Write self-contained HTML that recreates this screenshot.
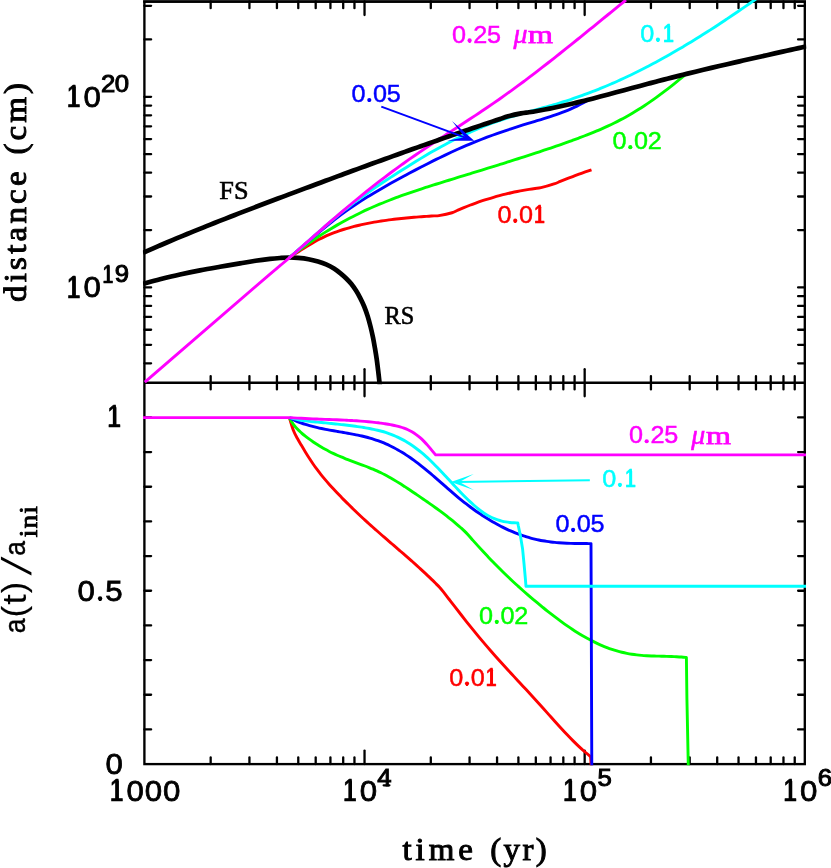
<!DOCTYPE html>
<html><head><meta charset="utf-8"><title>figure</title>
<style>html,body{margin:0;padding:0;background:#fff;overflow:hidden;}svg{display:block;will-change:transform;}text{font-family:"Liberation Sans",sans-serif;}.sf{font-family:"Liberation Serif",serif;}</style></head><body>
<svg width="831" height="868" viewBox="0 0 831 868">
<rect x="0" y="0" width="831" height="868" fill="#ffffff"/>
<defs>
<clipPath id="ct"><rect x="142.90" y="0" width="663.40" height="384.25"/></clipPath>
<clipPath id="cb"><rect x="142.90" y="381.55" width="663.40" height="383.75"/></clipPath>
</defs>
<g>
<rect x="144.40" y="1.50" width="660.40" height="762.60" fill="none" stroke="#000" stroke-width="2.35"/>
<line x1="144.40" y1="382.75" x2="804.80" y2="382.75" stroke="#000" stroke-width="2.35" stroke-linecap="butt"/>
<rect x="143.20" y="0" width="662.80" height="1.2" fill="#222"/>
<rect x="143.20" y="1.0" width="662.80" height="1.85" fill="#000"/>
<line x1="210.67" y1="1.50" x2="210.67" y2="8.20" stroke="#000" stroke-width="2.30" stroke-linecap="round"/>
<line x1="210.67" y1="376.05" x2="210.67" y2="389.45" stroke="#000" stroke-width="2.30" stroke-linecap="round"/>
<line x1="210.67" y1="764.10" x2="210.67" y2="757.40" stroke="#000" stroke-width="2.30" stroke-linecap="round"/>
<line x1="249.43" y1="1.50" x2="249.43" y2="8.20" stroke="#000" stroke-width="2.30" stroke-linecap="round"/>
<line x1="249.43" y1="376.05" x2="249.43" y2="389.45" stroke="#000" stroke-width="2.30" stroke-linecap="round"/>
<line x1="249.43" y1="764.10" x2="249.43" y2="757.40" stroke="#000" stroke-width="2.30" stroke-linecap="round"/>
<line x1="276.93" y1="1.50" x2="276.93" y2="8.20" stroke="#000" stroke-width="2.30" stroke-linecap="round"/>
<line x1="276.93" y1="376.05" x2="276.93" y2="389.45" stroke="#000" stroke-width="2.30" stroke-linecap="round"/>
<line x1="276.93" y1="764.10" x2="276.93" y2="757.40" stroke="#000" stroke-width="2.30" stroke-linecap="round"/>
<line x1="298.27" y1="1.50" x2="298.27" y2="8.20" stroke="#000" stroke-width="2.30" stroke-linecap="round"/>
<line x1="298.27" y1="376.05" x2="298.27" y2="389.45" stroke="#000" stroke-width="2.30" stroke-linecap="round"/>
<line x1="298.27" y1="764.10" x2="298.27" y2="757.40" stroke="#000" stroke-width="2.30" stroke-linecap="round"/>
<line x1="315.70" y1="1.50" x2="315.70" y2="8.20" stroke="#000" stroke-width="2.30" stroke-linecap="round"/>
<line x1="315.70" y1="376.05" x2="315.70" y2="389.45" stroke="#000" stroke-width="2.30" stroke-linecap="round"/>
<line x1="315.70" y1="764.10" x2="315.70" y2="757.40" stroke="#000" stroke-width="2.30" stroke-linecap="round"/>
<line x1="330.43" y1="1.50" x2="330.43" y2="8.20" stroke="#000" stroke-width="2.30" stroke-linecap="round"/>
<line x1="330.43" y1="376.05" x2="330.43" y2="389.45" stroke="#000" stroke-width="2.30" stroke-linecap="round"/>
<line x1="330.43" y1="764.10" x2="330.43" y2="757.40" stroke="#000" stroke-width="2.30" stroke-linecap="round"/>
<line x1="343.20" y1="1.50" x2="343.20" y2="8.20" stroke="#000" stroke-width="2.30" stroke-linecap="round"/>
<line x1="343.20" y1="376.05" x2="343.20" y2="389.45" stroke="#000" stroke-width="2.30" stroke-linecap="round"/>
<line x1="343.20" y1="764.10" x2="343.20" y2="757.40" stroke="#000" stroke-width="2.30" stroke-linecap="round"/>
<line x1="354.46" y1="1.50" x2="354.46" y2="8.20" stroke="#000" stroke-width="2.30" stroke-linecap="round"/>
<line x1="354.46" y1="376.05" x2="354.46" y2="389.45" stroke="#000" stroke-width="2.30" stroke-linecap="round"/>
<line x1="354.46" y1="764.10" x2="354.46" y2="757.40" stroke="#000" stroke-width="2.30" stroke-linecap="round"/>
<line x1="364.53" y1="1.50" x2="364.53" y2="15.00" stroke="#000" stroke-width="2.30" stroke-linecap="round"/>
<line x1="364.53" y1="369.25" x2="364.53" y2="396.25" stroke="#000" stroke-width="2.30" stroke-linecap="round"/>
<line x1="364.53" y1="764.10" x2="364.53" y2="750.60" stroke="#000" stroke-width="2.30" stroke-linecap="round"/>
<line x1="430.80" y1="1.50" x2="430.80" y2="8.20" stroke="#000" stroke-width="2.30" stroke-linecap="round"/>
<line x1="430.80" y1="376.05" x2="430.80" y2="389.45" stroke="#000" stroke-width="2.30" stroke-linecap="round"/>
<line x1="430.80" y1="764.10" x2="430.80" y2="757.40" stroke="#000" stroke-width="2.30" stroke-linecap="round"/>
<line x1="469.56" y1="1.50" x2="469.56" y2="8.20" stroke="#000" stroke-width="2.30" stroke-linecap="round"/>
<line x1="469.56" y1="376.05" x2="469.56" y2="389.45" stroke="#000" stroke-width="2.30" stroke-linecap="round"/>
<line x1="469.56" y1="764.10" x2="469.56" y2="757.40" stroke="#000" stroke-width="2.30" stroke-linecap="round"/>
<line x1="497.07" y1="1.50" x2="497.07" y2="8.20" stroke="#000" stroke-width="2.30" stroke-linecap="round"/>
<line x1="497.07" y1="376.05" x2="497.07" y2="389.45" stroke="#000" stroke-width="2.30" stroke-linecap="round"/>
<line x1="497.07" y1="764.10" x2="497.07" y2="757.40" stroke="#000" stroke-width="2.30" stroke-linecap="round"/>
<line x1="518.40" y1="1.50" x2="518.40" y2="8.20" stroke="#000" stroke-width="2.30" stroke-linecap="round"/>
<line x1="518.40" y1="376.05" x2="518.40" y2="389.45" stroke="#000" stroke-width="2.30" stroke-linecap="round"/>
<line x1="518.40" y1="764.10" x2="518.40" y2="757.40" stroke="#000" stroke-width="2.30" stroke-linecap="round"/>
<line x1="535.83" y1="1.50" x2="535.83" y2="8.20" stroke="#000" stroke-width="2.30" stroke-linecap="round"/>
<line x1="535.83" y1="376.05" x2="535.83" y2="389.45" stroke="#000" stroke-width="2.30" stroke-linecap="round"/>
<line x1="535.83" y1="764.10" x2="535.83" y2="757.40" stroke="#000" stroke-width="2.30" stroke-linecap="round"/>
<line x1="550.57" y1="1.50" x2="550.57" y2="8.20" stroke="#000" stroke-width="2.30" stroke-linecap="round"/>
<line x1="550.57" y1="376.05" x2="550.57" y2="389.45" stroke="#000" stroke-width="2.30" stroke-linecap="round"/>
<line x1="550.57" y1="764.10" x2="550.57" y2="757.40" stroke="#000" stroke-width="2.30" stroke-linecap="round"/>
<line x1="563.33" y1="1.50" x2="563.33" y2="8.20" stroke="#000" stroke-width="2.30" stroke-linecap="round"/>
<line x1="563.33" y1="376.05" x2="563.33" y2="389.45" stroke="#000" stroke-width="2.30" stroke-linecap="round"/>
<line x1="563.33" y1="764.10" x2="563.33" y2="757.40" stroke="#000" stroke-width="2.30" stroke-linecap="round"/>
<line x1="574.59" y1="1.50" x2="574.59" y2="8.20" stroke="#000" stroke-width="2.30" stroke-linecap="round"/>
<line x1="574.59" y1="376.05" x2="574.59" y2="389.45" stroke="#000" stroke-width="2.30" stroke-linecap="round"/>
<line x1="574.59" y1="764.10" x2="574.59" y2="757.40" stroke="#000" stroke-width="2.30" stroke-linecap="round"/>
<line x1="584.67" y1="1.50" x2="584.67" y2="15.00" stroke="#000" stroke-width="2.30" stroke-linecap="round"/>
<line x1="584.67" y1="369.25" x2="584.67" y2="396.25" stroke="#000" stroke-width="2.30" stroke-linecap="round"/>
<line x1="584.67" y1="764.10" x2="584.67" y2="750.60" stroke="#000" stroke-width="2.30" stroke-linecap="round"/>
<line x1="650.93" y1="1.50" x2="650.93" y2="8.20" stroke="#000" stroke-width="2.30" stroke-linecap="round"/>
<line x1="650.93" y1="376.05" x2="650.93" y2="389.45" stroke="#000" stroke-width="2.30" stroke-linecap="round"/>
<line x1="650.93" y1="764.10" x2="650.93" y2="757.40" stroke="#000" stroke-width="2.30" stroke-linecap="round"/>
<line x1="689.70" y1="1.50" x2="689.70" y2="8.20" stroke="#000" stroke-width="2.30" stroke-linecap="round"/>
<line x1="689.70" y1="376.05" x2="689.70" y2="389.45" stroke="#000" stroke-width="2.30" stroke-linecap="round"/>
<line x1="689.70" y1="764.10" x2="689.70" y2="757.40" stroke="#000" stroke-width="2.30" stroke-linecap="round"/>
<line x1="717.20" y1="1.50" x2="717.20" y2="8.20" stroke="#000" stroke-width="2.30" stroke-linecap="round"/>
<line x1="717.20" y1="376.05" x2="717.20" y2="389.45" stroke="#000" stroke-width="2.30" stroke-linecap="round"/>
<line x1="717.20" y1="764.10" x2="717.20" y2="757.40" stroke="#000" stroke-width="2.30" stroke-linecap="round"/>
<line x1="738.53" y1="1.50" x2="738.53" y2="8.20" stroke="#000" stroke-width="2.30" stroke-linecap="round"/>
<line x1="738.53" y1="376.05" x2="738.53" y2="389.45" stroke="#000" stroke-width="2.30" stroke-linecap="round"/>
<line x1="738.53" y1="764.10" x2="738.53" y2="757.40" stroke="#000" stroke-width="2.30" stroke-linecap="round"/>
<line x1="755.96" y1="1.50" x2="755.96" y2="8.20" stroke="#000" stroke-width="2.30" stroke-linecap="round"/>
<line x1="755.96" y1="376.05" x2="755.96" y2="389.45" stroke="#000" stroke-width="2.30" stroke-linecap="round"/>
<line x1="755.96" y1="764.10" x2="755.96" y2="757.40" stroke="#000" stroke-width="2.30" stroke-linecap="round"/>
<line x1="770.70" y1="1.50" x2="770.70" y2="8.20" stroke="#000" stroke-width="2.30" stroke-linecap="round"/>
<line x1="770.70" y1="376.05" x2="770.70" y2="389.45" stroke="#000" stroke-width="2.30" stroke-linecap="round"/>
<line x1="770.70" y1="764.10" x2="770.70" y2="757.40" stroke="#000" stroke-width="2.30" stroke-linecap="round"/>
<line x1="783.47" y1="1.50" x2="783.47" y2="8.20" stroke="#000" stroke-width="2.30" stroke-linecap="round"/>
<line x1="783.47" y1="376.05" x2="783.47" y2="389.45" stroke="#000" stroke-width="2.30" stroke-linecap="round"/>
<line x1="783.47" y1="764.10" x2="783.47" y2="757.40" stroke="#000" stroke-width="2.30" stroke-linecap="round"/>
<line x1="794.73" y1="1.50" x2="794.73" y2="8.20" stroke="#000" stroke-width="2.30" stroke-linecap="round"/>
<line x1="794.73" y1="376.05" x2="794.73" y2="389.45" stroke="#000" stroke-width="2.30" stroke-linecap="round"/>
<line x1="794.73" y1="764.10" x2="794.73" y2="757.40" stroke="#000" stroke-width="2.30" stroke-linecap="round"/>
<line x1="144.40" y1="363.29" x2="151.10" y2="363.29" stroke="#000" stroke-width="2.30" stroke-linecap="round"/>
<line x1="804.80" y1="363.29" x2="798.10" y2="363.29" stroke="#000" stroke-width="2.30" stroke-linecap="round"/>
<line x1="144.40" y1="344.82" x2="151.10" y2="344.82" stroke="#000" stroke-width="2.30" stroke-linecap="round"/>
<line x1="804.80" y1="344.82" x2="798.10" y2="344.82" stroke="#000" stroke-width="2.30" stroke-linecap="round"/>
<line x1="144.40" y1="329.73" x2="151.10" y2="329.73" stroke="#000" stroke-width="2.30" stroke-linecap="round"/>
<line x1="804.80" y1="329.73" x2="798.10" y2="329.73" stroke="#000" stroke-width="2.30" stroke-linecap="round"/>
<line x1="144.40" y1="316.97" x2="151.10" y2="316.97" stroke="#000" stroke-width="2.30" stroke-linecap="round"/>
<line x1="804.80" y1="316.97" x2="798.10" y2="316.97" stroke="#000" stroke-width="2.30" stroke-linecap="round"/>
<line x1="144.40" y1="305.91" x2="151.10" y2="305.91" stroke="#000" stroke-width="2.30" stroke-linecap="round"/>
<line x1="804.80" y1="305.91" x2="798.10" y2="305.91" stroke="#000" stroke-width="2.30" stroke-linecap="round"/>
<line x1="144.40" y1="296.16" x2="151.10" y2="296.16" stroke="#000" stroke-width="2.30" stroke-linecap="round"/>
<line x1="804.80" y1="296.16" x2="798.10" y2="296.16" stroke="#000" stroke-width="2.30" stroke-linecap="round"/>
<line x1="144.40" y1="287.44" x2="151.10" y2="287.44" stroke="#000" stroke-width="2.30" stroke-linecap="round"/>
<line x1="804.80" y1="287.44" x2="798.10" y2="287.44" stroke="#000" stroke-width="2.30" stroke-linecap="round"/>
<line x1="144.40" y1="230.05" x2="151.10" y2="230.05" stroke="#000" stroke-width="2.30" stroke-linecap="round"/>
<line x1="804.80" y1="230.05" x2="798.10" y2="230.05" stroke="#000" stroke-width="2.30" stroke-linecap="round"/>
<line x1="144.40" y1="196.49" x2="151.10" y2="196.49" stroke="#000" stroke-width="2.30" stroke-linecap="round"/>
<line x1="804.80" y1="196.49" x2="798.10" y2="196.49" stroke="#000" stroke-width="2.30" stroke-linecap="round"/>
<line x1="144.40" y1="172.67" x2="151.10" y2="172.67" stroke="#000" stroke-width="2.30" stroke-linecap="round"/>
<line x1="804.80" y1="172.67" x2="798.10" y2="172.67" stroke="#000" stroke-width="2.30" stroke-linecap="round"/>
<line x1="144.40" y1="154.20" x2="151.10" y2="154.20" stroke="#000" stroke-width="2.30" stroke-linecap="round"/>
<line x1="804.80" y1="154.20" x2="798.10" y2="154.20" stroke="#000" stroke-width="2.30" stroke-linecap="round"/>
<line x1="144.40" y1="139.10" x2="151.10" y2="139.10" stroke="#000" stroke-width="2.30" stroke-linecap="round"/>
<line x1="804.80" y1="139.10" x2="798.10" y2="139.10" stroke="#000" stroke-width="2.30" stroke-linecap="round"/>
<line x1="144.40" y1="126.34" x2="151.10" y2="126.34" stroke="#000" stroke-width="2.30" stroke-linecap="round"/>
<line x1="804.80" y1="126.34" x2="798.10" y2="126.34" stroke="#000" stroke-width="2.30" stroke-linecap="round"/>
<line x1="144.40" y1="115.29" x2="151.10" y2="115.29" stroke="#000" stroke-width="2.30" stroke-linecap="round"/>
<line x1="804.80" y1="115.29" x2="798.10" y2="115.29" stroke="#000" stroke-width="2.30" stroke-linecap="round"/>
<line x1="144.40" y1="105.54" x2="151.10" y2="105.54" stroke="#000" stroke-width="2.30" stroke-linecap="round"/>
<line x1="804.80" y1="105.54" x2="798.10" y2="105.54" stroke="#000" stroke-width="2.30" stroke-linecap="round"/>
<line x1="144.40" y1="96.81" x2="151.10" y2="96.81" stroke="#000" stroke-width="2.30" stroke-linecap="round"/>
<line x1="804.80" y1="96.81" x2="798.10" y2="96.81" stroke="#000" stroke-width="2.30" stroke-linecap="round"/>
<line x1="144.40" y1="39.43" x2="151.10" y2="39.43" stroke="#000" stroke-width="2.30" stroke-linecap="round"/>
<line x1="804.80" y1="39.43" x2="798.10" y2="39.43" stroke="#000" stroke-width="2.30" stroke-linecap="round"/>
<line x1="144.40" y1="5.86" x2="151.10" y2="5.86" stroke="#000" stroke-width="2.30" stroke-linecap="round"/>
<line x1="804.80" y1="5.86" x2="798.10" y2="5.86" stroke="#000" stroke-width="2.30" stroke-linecap="round"/>
<line x1="144.40" y1="729.43" x2="151.10" y2="729.43" stroke="#000" stroke-width="2.30" stroke-linecap="round"/>
<line x1="804.80" y1="729.43" x2="798.10" y2="729.43" stroke="#000" stroke-width="2.30" stroke-linecap="round"/>
<line x1="144.40" y1="694.76" x2="151.10" y2="694.76" stroke="#000" stroke-width="2.30" stroke-linecap="round"/>
<line x1="804.80" y1="694.76" x2="798.10" y2="694.76" stroke="#000" stroke-width="2.30" stroke-linecap="round"/>
<line x1="144.40" y1="660.10" x2="151.10" y2="660.10" stroke="#000" stroke-width="2.30" stroke-linecap="round"/>
<line x1="804.80" y1="660.10" x2="798.10" y2="660.10" stroke="#000" stroke-width="2.30" stroke-linecap="round"/>
<line x1="144.40" y1="625.43" x2="151.10" y2="625.43" stroke="#000" stroke-width="2.30" stroke-linecap="round"/>
<line x1="804.80" y1="625.43" x2="798.10" y2="625.43" stroke="#000" stroke-width="2.30" stroke-linecap="round"/>
<line x1="144.40" y1="590.76" x2="151.10" y2="590.76" stroke="#000" stroke-width="2.30" stroke-linecap="round"/>
<line x1="804.80" y1="590.76" x2="798.10" y2="590.76" stroke="#000" stroke-width="2.30" stroke-linecap="round"/>
<line x1="144.40" y1="556.09" x2="151.10" y2="556.09" stroke="#000" stroke-width="2.30" stroke-linecap="round"/>
<line x1="804.80" y1="556.09" x2="798.10" y2="556.09" stroke="#000" stroke-width="2.30" stroke-linecap="round"/>
<line x1="144.40" y1="521.42" x2="151.10" y2="521.42" stroke="#000" stroke-width="2.30" stroke-linecap="round"/>
<line x1="804.80" y1="521.42" x2="798.10" y2="521.42" stroke="#000" stroke-width="2.30" stroke-linecap="round"/>
<line x1="144.40" y1="486.75" x2="151.10" y2="486.75" stroke="#000" stroke-width="2.30" stroke-linecap="round"/>
<line x1="804.80" y1="486.75" x2="798.10" y2="486.75" stroke="#000" stroke-width="2.30" stroke-linecap="round"/>
<line x1="144.40" y1="452.09" x2="151.10" y2="452.09" stroke="#000" stroke-width="2.30" stroke-linecap="round"/>
<line x1="804.80" y1="452.09" x2="798.10" y2="452.09" stroke="#000" stroke-width="2.30" stroke-linecap="round"/>
<line x1="144.40" y1="417.42" x2="151.10" y2="417.42" stroke="#000" stroke-width="2.30" stroke-linecap="round"/>
<line x1="804.80" y1="417.42" x2="798.10" y2="417.42" stroke="#000" stroke-width="2.30" stroke-linecap="round"/>
</g>
<g clip-path="url(#ct)">
<path d="M143.00,283.80 C145.83,283.05 153.83,280.85 160.00,279.30 C166.17,277.75 173.33,275.98 180.00,274.50 C186.67,273.02 193.33,271.68 200.00,270.40 C206.67,269.12 213.33,267.97 220.00,266.80 C226.67,265.63 234.08,264.40 240.00,263.40 C245.92,262.40 250.50,261.55 255.50,260.80 C260.50,260.05 265.92,259.37 270.00,258.90 C274.08,258.43 276.78,258.23 280.00,258.00 C283.22,257.77 286.30,257.52 289.30,257.50 C292.30,257.48 294.80,257.62 298.00,257.90 C301.20,258.18 305.17,258.60 308.50,259.20 C311.83,259.80 315.07,260.65 318.00,261.50 C320.93,262.35 323.43,263.13 326.10,264.30 C328.77,265.47 331.60,267.00 334.00,268.50 C336.40,270.00 338.50,271.68 340.50,273.30 C342.50,274.92 344.18,276.42 346.00,278.20 C347.82,279.98 349.73,281.93 351.40,284.00 C353.07,286.07 354.50,288.22 356.00,290.60 C357.50,292.98 359.03,295.65 360.40,298.30 C361.77,300.95 363.00,303.55 364.20,306.50 C365.40,309.45 366.55,312.67 367.60,316.00 C368.65,319.33 369.60,322.92 370.50,326.50 C371.40,330.08 372.25,333.83 373.00,337.50 C373.75,341.17 374.38,344.90 375.00,348.50 C375.62,352.10 376.17,355.35 376.70,359.10 C377.23,362.85 377.73,367.08 378.20,371.00 C378.67,374.92 379.18,379.77 379.50,382.60 C379.82,385.43 380.00,387.10 380.10,388.00" fill="none" stroke="#000" stroke-width="4.70" stroke-linejoin="round" stroke-linecap="butt" stroke-linecap="round"/>
<path d="M289.30,257.44 C290.13,256.92 292.63,255.36 294.29,254.31 C295.95,253.26 297.62,252.20 299.28,251.15 C300.94,250.09 302.61,249.04 304.27,248.00 C305.93,246.97 307.60,245.94 309.26,244.95 C310.92,243.95 312.59,242.97 314.25,242.03 C315.91,241.09 317.58,240.18 319.24,239.32 C320.90,238.46 322.57,237.64 324.23,236.86 C325.89,236.08 327.56,235.34 329.22,234.64 C330.88,233.94 332.55,233.28 334.21,232.65 C335.87,232.02 337.54,231.43 339.20,230.86 C340.86,230.30 342.53,229.76 344.19,229.25 C345.85,228.73 347.52,228.25 349.18,227.78 C350.84,227.32 352.51,226.87 354.17,226.44 C355.83,226.02 357.50,225.61 359.16,225.22 C360.82,224.83 362.49,224.46 364.15,224.11 C365.81,223.75 367.48,223.41 369.14,223.09 C370.80,222.77 372.47,222.46 374.13,222.17 C375.79,221.88 377.46,221.60 379.12,221.33 C380.78,221.07 382.45,220.82 384.11,220.58 C385.77,220.33 387.44,220.11 389.10,219.89 C390.76,219.67 392.43,219.47 394.09,219.27 C395.75,219.07 397.42,218.88 399.08,218.70 C400.74,218.52 402.41,218.35 404.07,218.19 C405.73,218.02 407.40,217.87 409.06,217.72 C410.72,217.57 412.39,217.43 414.05,217.29 C415.71,217.15 417.38,217.02 419.04,216.90 C420.70,216.77 422.37,216.65 424.03,216.54 C425.69,216.42 427.36,216.32 429.02,216.21 C430.68,216.10 432.35,216.00 434.01,215.91 C435.67,215.81 436.00,216.15 439.00,215.63 C442.00,215.10 448.84,213.66 452.00,212.74 C455.16,211.82 455.96,210.96 457.93,210.10 C459.91,209.25 461.89,208.42 463.87,207.61 C465.84,206.80 467.82,206.02 469.80,205.26 C471.78,204.50 473.76,203.77 475.73,203.05 C477.71,202.34 479.69,201.65 481.67,200.99 C483.64,200.33 485.62,199.68 487.60,199.07 C489.58,198.45 491.56,197.86 493.53,197.29 C495.51,196.71 497.49,196.16 499.47,195.63 C501.44,195.11 503.42,194.60 505.40,194.11 C507.38,193.63 509.36,193.16 511.33,192.72 C513.31,192.28 515.29,191.86 517.27,191.46 C519.24,191.06 521.22,190.68 523.20,190.33 C525.18,189.97 527.16,189.64 529.13,189.33 C531.11,189.01 533.09,188.72 535.07,188.45 C537.04,188.18 537.84,188.47 541.00,187.71 C544.16,186.95 550.79,184.97 554.00,183.91 C557.21,182.86 558.17,182.22 560.25,181.39 C562.33,180.56 564.42,179.74 566.50,178.93 C568.58,178.13 570.67,177.33 572.75,176.54 C574.83,175.76 576.92,174.98 579.00,174.22 C581.08,173.46 583.17,172.71 585.25,171.96 C587.33,171.22 590.46,170.14 591.50,169.78" fill="none" stroke="#ff0000" stroke-width="2.90" stroke-linejoin="round" stroke-linecap="butt" stroke-linecap="round"/>
<path d="M289.30,257.36 C290.30,256.62 293.31,254.37 295.32,252.90 C297.32,251.42 299.33,249.96 301.34,248.52 C303.34,247.07 305.35,245.64 307.35,244.23 C309.36,242.82 311.37,241.43 313.37,240.07 C315.38,238.70 317.38,237.35 319.39,236.03 C321.40,234.71 323.40,233.41 325.41,232.14 C327.42,230.87 329.42,229.63 331.43,228.42 C333.43,227.21 335.44,226.02 337.45,224.87 C339.45,223.71 341.46,222.58 343.46,221.48 C345.47,220.38 347.48,219.31 349.48,218.26 C351.49,217.21 353.49,216.18 355.50,215.18 C357.51,214.18 359.51,213.20 361.52,212.24 C363.52,211.29 365.53,210.35 367.54,209.44 C369.54,208.53 371.55,207.63 373.55,206.76 C375.56,205.89 377.57,205.03 379.57,204.20 C381.58,203.36 383.58,202.54 385.59,201.74 C387.60,200.94 389.60,200.16 391.61,199.39 C393.62,198.62 395.62,197.86 397.63,197.12 C399.63,196.38 401.64,195.65 403.65,194.93 C405.65,194.22 407.66,193.52 409.66,192.82 C411.67,192.13 413.68,191.45 415.68,190.77 C417.69,190.10 419.69,189.43 421.70,188.78 C423.71,188.12 425.71,187.47 427.72,186.83 C429.72,186.18 431.73,185.55 433.74,184.92 C435.74,184.28 437.75,183.66 439.75,183.03 C441.76,182.41 443.77,181.79 445.77,181.17 C447.78,180.55 449.78,179.93 451.79,179.31 C453.80,178.70 455.80,178.08 457.81,177.46 C459.82,176.85 461.82,176.23 463.83,175.61 C465.83,175.00 467.84,174.38 469.85,173.77 C471.85,173.15 473.86,172.53 475.86,171.92 C477.87,171.30 479.88,170.68 481.88,170.06 C483.89,169.44 485.89,168.82 487.90,168.20 C489.91,167.58 491.91,166.96 493.92,166.33 C495.92,165.71 497.93,165.08 499.94,164.46 C501.94,163.83 503.95,163.20 505.95,162.57 C507.96,161.94 509.97,161.30 511.97,160.67 C513.98,160.03 515.98,159.39 517.99,158.75 C520.00,158.11 522.00,157.47 524.01,156.82 C526.02,156.17 528.02,155.52 530.03,154.87 C532.03,154.22 534.04,153.56 536.05,152.90 C538.05,152.24 540.06,151.57 542.06,150.90 C544.07,150.24 546.08,149.56 548.08,148.89 C550.09,148.21 552.09,147.53 554.10,146.84 C556.11,146.16 558.11,145.47 560.12,144.77 C562.12,144.07 564.13,143.38 566.14,142.67 C568.14,141.96 570.15,141.24 572.15,140.52 C574.16,139.79 576.17,139.06 578.17,138.31 C580.18,137.56 582.18,136.80 584.19,136.02 C586.20,135.25 588.20,134.46 590.21,133.65 C592.22,132.84 594.22,132.02 596.23,131.17 C598.23,130.32 600.24,129.46 602.25,128.57 C604.25,127.68 606.26,126.77 608.26,125.83 C610.27,124.90 612.28,123.94 614.28,122.95 C616.29,121.96 618.29,120.94 620.30,119.90 C622.31,118.85 624.31,117.77 626.32,116.66 C628.32,115.55 630.33,114.41 632.34,113.24 C634.34,112.06 636.35,110.85 638.35,109.60 C640.36,108.35 642.37,107.06 644.37,105.74 C646.38,104.41 648.38,103.05 650.39,101.66 C652.40,100.26 654.40,98.84 656.41,97.38 C658.42,95.93 660.42,94.44 662.43,92.93 C664.43,91.41 666.44,89.87 668.45,88.31 C670.45,86.75 672.46,85.16 674.46,83.55 C676.47,81.94 678.48,80.31 680.48,78.67 C682.49,77.02 685.50,74.51 686.50,73.68" fill="none" stroke="#00ff00" stroke-width="2.90" stroke-linejoin="round" stroke-linecap="butt" />
<path d="M289.30,257.73 C290.30,256.87 293.30,254.30 295.29,252.58 C297.29,250.87 299.29,249.14 301.29,247.42 C303.29,245.69 305.28,243.97 307.28,242.26 C309.28,240.54 311.28,238.83 313.28,237.13 C315.27,235.43 317.27,233.74 319.27,232.08 C321.27,230.41 323.27,228.75 325.26,227.12 C327.26,225.49 329.26,223.88 331.26,222.30 C333.26,220.72 335.25,219.16 337.25,217.64 C339.25,216.11 341.25,214.62 343.25,213.17 C345.24,211.71 347.24,210.29 349.24,208.90 C351.24,207.50 353.24,206.14 355.23,204.81 C357.23,203.47 359.23,202.16 361.23,200.88 C363.23,199.59 365.22,198.34 367.22,197.10 C369.22,195.86 371.22,194.65 373.22,193.45 C375.21,192.25 377.21,191.08 379.21,189.91 C381.21,188.75 383.21,187.60 385.20,186.47 C387.20,185.34 389.20,184.22 391.20,183.10 C393.20,181.99 395.19,180.89 397.19,179.80 C399.19,178.71 401.19,177.62 403.19,176.54 C405.18,175.46 407.18,174.38 409.18,173.32 C411.18,172.25 413.18,171.19 415.17,170.14 C417.17,169.09 419.17,168.04 421.17,167.01 C423.17,165.97 425.16,164.95 427.16,163.93 C429.16,162.91 431.16,161.91 433.16,160.91 C435.15,159.92 437.15,158.93 439.15,157.96 C441.15,156.98 443.15,156.02 445.14,155.07 C447.14,154.12 449.14,153.18 451.14,152.26 C453.14,151.34 455.13,150.43 457.13,149.53 C459.13,148.63 461.13,147.75 463.13,146.88 C465.12,146.02 467.12,145.16 469.12,144.33 C471.12,143.49 473.12,142.67 475.11,141.86 C477.11,141.06 479.11,140.27 481.11,139.49 C483.11,138.72 485.10,137.96 487.10,137.21 C489.10,136.46 491.10,135.73 493.10,135.00 C495.09,134.28 497.09,133.57 499.09,132.87 C501.09,132.17 503.09,131.49 505.08,130.81 C507.08,130.13 509.08,129.47 511.08,128.81 C513.08,128.15 515.07,127.51 517.07,126.87 C519.07,126.23 521.07,125.60 523.07,124.98 C525.06,124.36 527.06,123.75 529.06,123.14 C531.06,122.53 533.06,121.93 535.05,121.33 C537.05,120.73 539.05,120.14 541.05,119.53 C543.05,118.92 545.04,118.31 547.04,117.67 C549.04,117.04 551.04,116.40 553.04,115.73 C555.03,115.06 557.03,114.37 559.03,113.65 C561.03,112.92 563.03,112.17 565.02,111.38 C567.02,110.58 569.02,109.76 571.02,108.88 C573.02,108.00 575.01,107.09 577.01,106.12 C579.01,105.15 581.01,104.13 583.01,103.06 C585.00,101.99 588.00,100.24 589.00,99.68" fill="none" stroke="#0000ff" stroke-width="2.90" stroke-linejoin="round" stroke-linecap="butt" />
<path d="M289.30,257.75 C290.30,256.88 293.29,254.31 295.28,252.57 C297.28,250.83 299.27,249.07 301.27,247.31 C303.26,245.55 305.26,243.78 307.25,242.01 C309.24,240.25 311.24,238.47 313.23,236.71 C315.23,234.94 317.22,233.18 319.22,231.43 C321.21,229.68 323.21,227.93 325.20,226.20 C327.19,224.48 329.19,222.76 331.18,221.07 C333.18,219.38 335.17,217.70 337.17,216.06 C339.16,214.41 341.16,212.79 343.15,211.20 C345.14,209.61 347.14,208.04 349.13,206.50 C351.13,204.96 353.12,203.45 355.12,201.96 C357.11,200.47 359.11,199.00 361.10,197.55 C363.09,196.10 365.09,194.68 367.08,193.27 C369.08,191.86 371.07,190.47 373.07,189.10 C375.06,187.73 377.06,186.37 379.05,185.03 C381.04,183.68 383.04,182.36 385.03,181.04 C387.03,179.73 389.02,178.42 391.02,177.13 C393.01,175.84 395.01,174.55 397.00,173.28 C398.99,172.00 400.99,170.73 402.98,169.47 C404.98,168.21 406.97,166.96 408.97,165.72 C410.96,164.47 412.96,163.24 414.95,162.01 C416.94,160.79 418.94,159.58 420.93,158.38 C422.93,157.18 424.92,155.99 426.92,154.82 C428.91,153.64 430.91,152.48 432.90,151.34 C434.89,150.20 436.89,149.07 438.88,147.96 C440.88,146.85 442.87,145.76 444.87,144.69 C446.86,143.62 448.86,142.56 450.85,141.53 C452.84,140.50 454.84,139.49 456.83,138.50 C458.83,137.51 460.82,136.54 462.82,135.59 C464.81,134.64 466.81,133.71 468.80,132.81 C470.79,131.90 472.79,131.01 474.78,130.15 C476.78,129.29 478.77,128.45 480.77,127.62 C482.76,126.80 484.76,126.01 486.75,125.23 C488.74,124.45 490.74,123.70 492.73,122.96 C494.73,122.23 496.72,121.52 498.72,120.83 C500.71,120.14 502.71,119.47 504.70,118.83 C506.69,118.18 508.69,117.55 510.68,116.94 C512.68,116.32 514.67,115.73 516.67,115.14 C518.66,114.55 520.66,113.98 522.65,113.42 C524.64,112.85 526.64,112.29 528.63,111.74 C530.63,111.19 532.62,110.64 534.62,110.09 C536.61,109.54 538.61,109.00 540.60,108.44 C542.59,107.89 544.59,107.34 546.58,106.78 C548.58,106.22 550.57,105.65 552.57,105.07 C554.56,104.49 556.56,103.91 558.55,103.30 C560.54,102.70 562.54,102.08 564.53,101.45 C566.53,100.82 568.52,100.17 570.52,99.51 C572.51,98.84 574.51,98.17 576.50,97.47 C578.49,96.78 580.49,96.07 582.48,95.35 C584.48,94.63 586.47,93.89 588.47,93.14 C590.46,92.39 592.46,91.62 594.45,90.84 C596.44,90.06 598.44,89.26 600.43,88.45 C602.43,87.64 604.42,86.81 606.42,85.97 C608.41,85.13 610.41,84.27 612.40,83.40 C614.39,82.54 616.39,81.65 618.38,80.75 C620.38,79.85 622.37,78.94 624.37,78.01 C626.36,77.09 628.36,76.14 630.35,75.19 C632.34,74.23 634.34,73.26 636.33,72.28 C638.33,71.29 640.32,70.29 642.32,69.28 C644.31,68.27 646.31,67.24 648.30,66.20 C650.29,65.16 652.29,64.10 654.28,63.04 C656.28,61.97 658.27,60.89 660.27,59.79 C662.26,58.70 664.26,57.59 666.25,56.47 C668.24,55.36 670.24,54.22 672.23,53.08 C674.23,51.94 676.22,50.78 678.22,49.61 C680.21,48.45 682.21,47.27 684.20,46.08 C686.19,44.89 688.19,43.68 690.18,42.47 C692.18,41.26 694.17,40.04 696.17,38.80 C698.16,37.57 700.16,36.32 702.15,35.07 C704.14,33.81 706.14,32.55 708.13,31.28 C710.13,30.00 712.12,28.72 714.12,27.42 C716.11,26.13 718.11,24.83 720.10,23.52 C722.09,22.21 724.09,20.89 726.08,19.56 C728.08,18.23 730.07,16.89 732.07,15.54 C734.06,14.20 736.06,12.85 738.05,11.48 C740.04,10.12 742.04,8.75 744.03,7.38 C746.03,6.00 748.02,4.62 750.02,3.23 C752.01,1.84 755.00,-0.27 756.00,-0.97" fill="none" stroke="#00ffff" stroke-width="2.90" stroke-linejoin="round" stroke-linecap="butt" />
<path d="M144.80,382.10 C165.67,364.10 248.13,292.94 270.00,274.11 C291.87,255.27 274.02,270.78 276.03,269.09 C278.05,267.41 280.06,265.70 282.07,263.98 C284.08,262.27 286.09,260.53 288.10,258.79 C290.11,257.05 292.12,255.30 294.14,253.54 C296.15,251.78 298.16,250.01 300.17,248.24 C302.18,246.47 304.19,244.70 306.20,242.92 C308.21,241.14 310.23,239.36 312.24,237.58 C314.25,235.81 316.26,234.03 318.27,232.26 C320.28,230.48 322.29,228.71 324.31,226.95 C326.32,225.19 328.33,223.43 330.34,221.69 C332.35,219.94 334.36,218.21 336.37,216.48 C338.38,214.76 340.40,213.04 342.41,211.34 C344.42,209.64 346.43,207.94 348.44,206.26 C350.45,204.58 352.46,202.91 354.47,201.25 C356.49,199.59 358.50,197.94 360.51,196.31 C362.52,194.67 364.53,193.05 366.54,191.44 C368.55,189.83 370.56,188.23 372.58,186.65 C374.59,185.06 376.60,183.49 378.61,181.94 C380.62,180.38 382.63,178.84 384.64,177.31 C386.66,175.78 388.67,174.26 390.68,172.77 C392.69,171.27 394.70,169.78 396.71,168.31 C398.72,166.84 400.73,165.39 402.75,163.95 C404.76,162.51 406.77,161.09 408.78,159.68 C410.79,158.27 412.80,156.87 414.81,155.49 C416.82,154.10 418.84,152.73 420.85,151.36 C422.86,150.00 424.87,148.64 426.88,147.29 C428.89,145.95 430.90,144.61 432.92,143.27 C434.93,141.94 436.94,140.61 438.95,139.29 C440.96,137.97 442.97,136.65 444.98,135.34 C446.99,134.02 449.01,132.71 451.02,131.40 C453.03,130.08 455.04,128.77 457.05,127.46 C459.06,126.15 461.07,124.84 463.08,123.52 C465.10,122.21 467.11,120.89 469.12,119.57 C471.13,118.25 473.14,116.92 475.15,115.59 C477.16,114.26 479.18,112.92 481.19,111.57 C483.20,110.23 485.21,108.87 487.22,107.51 C489.23,106.15 491.24,104.78 493.25,103.39 C495.27,102.01 497.28,100.61 499.29,99.20 C501.30,97.80 503.31,96.38 505.32,94.94 C507.33,93.51 509.34,92.06 511.36,90.60 C513.37,89.15 515.38,87.68 517.39,86.20 C519.40,84.72 521.41,83.22 523.42,81.72 C525.44,80.22 527.45,78.71 529.46,77.19 C531.47,75.67 533.48,74.14 535.49,72.60 C537.50,71.06 539.51,69.51 541.53,67.95 C543.54,66.40 545.55,64.83 547.56,63.26 C549.57,61.69 551.58,60.11 553.59,58.53 C555.60,56.94 557.62,55.35 559.63,53.76 C561.64,52.16 563.65,50.56 565.66,48.95 C567.67,47.34 569.68,45.73 571.69,44.11 C573.71,42.50 575.72,40.88 577.73,39.25 C579.74,37.63 581.75,36.00 583.76,34.38 C585.77,32.75 587.79,31.11 589.80,29.48 C591.81,27.85 593.82,26.21 595.83,24.58 C597.84,22.94 599.85,21.30 601.86,19.66 C603.88,18.03 605.89,16.39 607.90,14.75 C609.91,13.11 611.92,11.48 613.93,9.84 C615.94,8.20 617.95,6.57 619.97,4.94 C621.98,3.31 624.99,0.86 626.00,0.05" fill="none" stroke="#ff00ff" stroke-width="2.90" stroke-linejoin="round" stroke-linecap="butt" />
<path d="M143.00,252.78 C144.32,252.20 148.29,250.46 150.93,249.31 C153.58,248.16 156.22,247.02 158.87,245.89 C161.51,244.75 164.16,243.63 166.80,242.51 C169.45,241.39 172.09,240.27 174.74,239.17 C177.38,238.06 180.03,236.96 182.67,235.87 C185.32,234.77 187.96,233.69 190.61,232.60 C193.25,231.52 195.90,230.45 198.54,229.38 C201.19,228.30 203.83,227.24 206.48,226.18 C209.12,225.12 211.77,224.06 214.41,223.01 C217.06,221.96 219.70,220.92 222.35,219.88 C224.99,218.84 227.64,217.80 230.28,216.77 C232.93,215.74 235.57,214.71 238.22,213.68 C240.86,212.66 243.51,211.64 246.15,210.62 C248.80,209.60 251.44,208.59 254.09,207.58 C256.73,206.57 259.38,205.56 262.02,204.56 C264.67,203.55 267.31,202.55 269.96,201.55 C272.60,200.55 275.25,199.55 277.89,198.56 C280.54,197.56 283.18,196.57 285.83,195.58 C288.47,194.58 291.12,193.59 293.76,192.61 C296.41,191.62 299.05,190.63 301.70,189.64 C304.34,188.66 306.99,187.67 309.63,186.69 C312.28,185.70 314.92,184.72 317.57,183.74 C320.21,182.76 322.86,181.77 325.50,180.80 C328.14,179.82 330.79,178.84 333.43,177.86 C336.08,176.88 338.72,175.91 341.37,174.94 C344.01,173.96 346.66,172.99 349.30,172.02 C351.95,171.05 354.59,170.08 357.24,169.11 C359.88,168.15 362.53,167.18 365.17,166.22 C367.82,165.25 370.46,164.29 373.11,163.33 C375.75,162.37 378.40,161.41 381.04,160.45 C383.69,159.50 386.33,158.54 388.98,157.59 C391.62,156.64 394.27,155.69 396.91,154.74 C399.56,153.79 402.20,152.84 404.85,151.90 C407.49,150.95 410.14,150.01 412.78,149.07 C415.43,148.13 418.07,147.19 420.72,146.26 C423.36,145.32 426.01,144.39 428.65,143.46 C431.30,142.52 433.94,141.60 436.59,140.67 C439.23,139.74 441.88,138.82 444.52,137.90 C447.17,136.98 449.81,136.06 452.46,135.14 C455.10,134.23 457.75,133.31 460.39,132.40 C463.04,131.49 465.68,130.59 468.33,129.68 C470.97,128.78 473.62,127.87 476.26,126.97 C478.91,126.08 481.55,125.18 484.20,124.29 C486.84,123.39 489.49,122.50 492.13,121.61 C494.78,120.73 497.42,119.84 500.07,118.96 C502.71,118.08 504.51,117.25 508.00,116.33 C511.49,115.40 517.51,114.08 521.00,113.41 C524.49,112.73 526.29,112.67 528.93,112.26 C531.57,111.85 534.22,111.42 536.86,110.96 C539.50,110.50 542.15,110.02 544.79,109.52 C547.44,109.02 550.08,108.50 552.72,107.96 C555.37,107.42 558.01,106.85 560.65,106.28 C563.30,105.70 565.94,105.10 568.58,104.50 C571.23,103.89 573.87,103.26 576.51,102.62 C579.16,101.99 581.80,101.34 584.44,100.68 C587.09,100.02 589.73,99.34 592.38,98.66 C595.02,97.98 597.66,97.29 600.31,96.60 C602.95,95.90 605.59,95.20 608.24,94.49 C610.88,93.78 613.52,93.07 616.17,92.35 C618.81,91.64 621.45,90.92 624.10,90.20 C626.74,89.48 629.38,88.76 632.03,88.05 C634.67,87.33 637.31,86.61 639.96,85.90 C642.60,85.19 645.25,84.48 647.89,83.78 C650.53,83.07 653.18,82.38 655.82,81.69 C658.46,80.99 661.11,80.31 663.75,79.63 C666.39,78.95 669.04,78.27 671.68,77.60 C674.32,76.94 676.97,76.27 679.61,75.61 C682.25,74.95 684.90,74.30 687.54,73.65 C690.19,73.00 692.83,72.35 695.47,71.71 C698.12,71.07 700.76,70.43 703.40,69.80 C706.05,69.17 708.69,68.54 711.33,67.91 C713.98,67.29 716.62,66.67 719.26,66.05 C721.91,65.43 724.55,64.81 727.19,64.20 C729.84,63.59 732.48,62.98 735.12,62.37 C737.77,61.76 740.41,61.15 743.06,60.55 C745.70,59.95 748.34,59.35 750.99,58.75 C753.63,58.15 756.27,57.55 758.92,56.96 C761.56,56.36 764.20,55.77 766.85,55.17 C769.49,54.58 772.13,53.99 774.78,53.40 C777.42,52.81 780.06,52.22 782.71,51.63 C785.35,51.04 788.00,50.45 790.64,49.86 C793.28,49.27 795.93,48.68 798.57,48.09 C801.21,47.50 805.18,46.62 806.50,46.32" fill="none" stroke="#000" stroke-width="4.70" stroke-linejoin="round" stroke-linecap="butt" stroke-linecap="round"/>
</g>
<g clip-path="url(#cb)">
<path d="M289.40,417.61 C290.06,419.72 292.03,426.84 293.35,430.29 C294.67,433.73 295.98,435.82 297.30,438.29 C298.62,440.76 299.93,442.87 301.25,445.11 C302.57,447.35 303.88,449.57 305.20,451.73 C306.52,453.88 307.83,456.01 309.15,458.05 C310.47,460.09 311.78,462.07 313.10,463.97 C314.42,465.88 315.73,467.70 317.05,469.47 C318.37,471.23 319.68,472.93 321.00,474.58 C322.32,476.23 323.63,477.81 324.95,479.37 C326.27,480.92 327.58,482.43 328.90,483.91 C330.22,485.39 331.53,486.82 332.85,488.25 C334.17,489.67 335.48,491.07 336.80,492.46 C338.12,493.85 339.43,495.22 340.75,496.58 C342.07,497.93 343.38,499.28 344.70,500.60 C346.02,501.93 347.33,503.25 348.65,504.55 C349.97,505.85 351.28,507.14 352.60,508.42 C353.92,509.69 355.23,510.96 356.55,512.21 C357.87,513.46 359.18,514.71 360.50,515.94 C361.82,517.17 363.13,518.39 364.45,519.60 C365.77,520.82 367.08,522.02 368.40,523.21 C369.72,524.41 371.03,525.59 372.35,526.77 C373.67,527.95 374.98,529.12 376.30,530.28 C377.62,531.45 378.93,532.61 380.25,533.76 C381.57,534.91 382.88,536.05 384.20,537.20 C385.52,538.34 386.83,539.48 388.15,540.61 C389.47,541.75 390.78,542.88 392.10,544.01 C393.42,545.14 394.73,546.27 396.05,547.41 C397.37,548.54 398.68,549.67 400.00,550.81 C401.32,551.94 402.63,553.08 403.95,554.22 C405.27,555.36 406.58,556.51 407.90,557.66 C409.22,558.81 410.53,559.97 411.85,561.14 C413.17,562.30 414.48,563.47 415.80,564.66 C417.12,565.84 418.43,567.03 419.75,568.23 C421.07,569.43 422.38,570.64 423.70,571.87 C425.02,573.09 426.33,574.33 427.65,575.58 C428.97,576.83 430.28,578.10 431.60,579.38 C432.92,580.66 434.23,581.96 435.55,583.27 C436.87,584.58 438.26,585.92 439.50,587.26 C440.74,588.61 441.43,589.39 443.00,591.34 C444.57,593.30 446.94,596.45 448.90,599.00 C450.87,601.55 452.84,604.11 454.81,606.65 C456.78,609.20 458.74,611.74 460.71,614.26 C462.68,616.78 464.65,619.29 466.62,621.78 C468.58,624.26 470.55,626.73 472.52,629.17 C474.49,631.60 476.46,634.02 478.42,636.40 C480.39,638.77 482.36,641.12 484.33,643.43 C486.30,645.74 488.26,648.02 490.23,650.27 C492.20,652.52 494.17,654.75 496.14,656.95 C498.10,659.16 500.07,661.34 502.04,663.51 C504.01,665.68 505.98,667.83 507.94,669.97 C509.91,672.12 511.88,674.24 513.85,676.37 C515.82,678.50 517.78,680.62 519.75,682.74 C521.72,684.86 523.69,686.98 525.66,689.10 C527.62,691.23 529.59,693.36 531.56,695.50 C533.53,697.64 535.50,699.79 537.46,701.96 C539.43,704.13 541.40,706.31 543.37,708.51 C545.34,710.70 547.30,712.92 549.27,715.12 C551.24,717.32 553.21,719.53 555.18,721.71 C557.14,723.90 559.11,726.08 561.08,728.21 C563.05,730.35 565.02,732.48 566.98,734.54 C568.95,736.61 570.92,738.65 572.89,740.63 C574.86,742.60 576.82,744.53 578.79,746.38 C580.76,748.23 582.73,750.02 584.70,751.73 C586.66,753.43 589.62,755.78 590.60,756.59 L591.2,766" fill="none" stroke="#ff0000" stroke-width="2.90" stroke-linejoin="round" stroke-linecap="butt" />
<path d="M289.40,417.61 C290.06,418.74 292.05,422.49 293.38,424.40 C294.71,426.32 296.03,427.72 297.36,429.12 C298.69,430.52 300.01,431.63 301.34,432.80 C302.67,433.97 303.99,435.06 305.32,436.12 C306.64,437.18 307.97,438.19 309.30,439.16 C310.62,440.14 311.95,441.07 313.28,441.98 C314.60,442.88 315.93,443.75 317.26,444.59 C318.58,445.43 319.91,446.24 321.24,447.03 C322.56,447.81 323.89,448.57 325.22,449.30 C326.54,450.03 327.87,450.74 329.20,451.42 C330.52,452.10 331.85,452.76 333.17,453.40 C334.50,454.03 335.83,454.65 337.15,455.24 C338.48,455.84 339.81,456.41 341.13,456.96 C342.46,457.52 343.79,458.05 345.11,458.58 C346.44,459.11 347.77,459.61 349.09,460.12 C350.42,460.62 351.75,461.11 353.07,461.60 C354.40,462.09 355.73,462.57 357.05,463.06 C358.38,463.55 359.71,464.03 361.03,464.52 C362.36,465.01 363.68,465.50 365.01,466.01 C366.34,466.51 367.66,467.02 368.99,467.55 C370.32,468.08 371.64,468.61 372.97,469.17 C374.30,469.73 375.62,470.30 376.95,470.90 C378.28,471.51 379.60,472.13 380.93,472.77 C382.26,473.42 383.58,474.10 384.91,474.79 C386.24,475.49 387.56,476.21 388.89,476.95 C390.22,477.69 391.54,478.45 392.87,479.23 C394.19,480.01 395.52,480.81 396.85,481.62 C398.17,482.43 399.50,483.26 400.83,484.10 C402.15,484.94 403.48,485.80 404.81,486.66 C406.13,487.52 407.46,488.40 408.79,489.28 C410.11,490.17 411.44,491.06 412.77,491.96 C414.09,492.85 415.42,493.76 416.75,494.66 C418.07,495.57 419.40,496.48 420.73,497.39 C422.05,498.30 423.38,499.21 424.70,500.13 C426.03,501.04 427.36,501.96 428.68,502.89 C430.01,503.81 431.34,504.74 432.66,505.69 C433.99,506.63 435.32,507.58 436.64,508.54 C437.97,509.50 439.30,510.47 440.62,511.45 C441.95,512.44 443.28,513.43 444.60,514.45 C445.93,515.46 447.26,516.49 448.58,517.53 C449.91,518.58 451.23,519.64 452.56,520.73 C453.89,521.82 455.21,522.92 456.54,524.05 C457.87,525.18 459.19,526.32 460.52,527.50 C461.85,528.68 463.25,529.89 464.50,531.10 C465.75,532.31 466.59,533.22 468.00,534.77 C469.41,536.31 471.31,538.52 472.96,540.37 C474.62,542.22 476.27,544.06 477.93,545.88 C479.58,547.70 481.24,549.50 482.89,551.28 C484.55,553.07 486.20,554.83 487.85,556.58 C489.51,558.32 491.16,560.05 492.82,561.75 C494.47,563.46 496.13,565.14 497.78,566.81 C499.44,568.47 501.09,570.11 502.75,571.73 C504.40,573.36 506.05,574.95 507.71,576.53 C509.36,578.11 511.02,579.67 512.67,581.21 C514.33,582.75 515.98,584.27 517.64,585.77 C519.29,587.27 520.95,588.76 522.60,590.22 C524.25,591.69 525.91,593.14 527.56,594.57 C529.22,596.00 530.87,597.42 532.53,598.82 C534.18,600.22 535.84,601.61 537.49,602.98 C539.15,604.35 540.80,605.71 542.45,607.05 C544.11,608.39 545.76,609.73 547.42,611.04 C549.07,612.35 550.73,613.64 552.38,614.92 C554.04,616.20 555.69,617.46 557.35,618.69 C559.00,619.93 560.65,621.15 562.31,622.34 C563.96,623.53 565.62,624.70 567.27,625.85 C568.93,626.99 570.58,628.11 572.24,629.21 C573.89,630.30 575.55,631.37 577.20,632.40 C578.85,633.44 580.51,634.45 582.16,635.43 C583.82,636.40 585.47,637.35 587.13,638.26 C588.78,639.17 590.44,640.05 592.09,640.90 C593.75,641.74 595.40,642.55 597.05,643.33 C598.71,644.10 600.36,644.84 602.02,645.54 C603.67,646.25 605.33,646.91 606.98,647.55 C608.64,648.18 610.29,648.77 611.95,649.33 C613.60,649.89 615.25,650.41 616.91,650.90 C618.56,651.38 620.22,651.83 621.87,652.24 C623.53,652.65 625.18,653.02 626.84,653.35 C628.49,653.68 630.15,653.97 631.80,654.23 C633.45,654.49 635.11,654.71 636.76,654.90 C638.42,655.09 640.07,655.24 641.73,655.38 C643.38,655.52 645.04,655.62 646.69,655.72 C648.35,655.81 650.00,655.88 651.65,655.95 C653.31,656.01 654.96,656.06 656.62,656.10 C658.27,656.15 659.93,656.19 661.58,656.23 C663.24,656.27 664.89,656.30 666.55,656.35 C668.20,656.39 669.85,656.44 671.51,656.50 C673.16,656.56 674.82,656.62 676.47,656.70 C678.13,656.79 679.78,656.88 681.44,657.00 C683.09,657.11 685.57,657.33 686.40,657.40 L686.9,697.9 L688.3,766" fill="none" stroke="#00ff00" stroke-width="2.90" stroke-linejoin="round" stroke-linecap="butt" />
<path d="M289.40,417.60 C290.07,417.96 292.08,419.09 293.42,419.75 C294.76,420.42 296.10,421.01 297.44,421.57 C298.78,422.13 300.12,422.64 301.46,423.12 C302.80,423.59 304.14,424.02 305.49,424.44 C306.83,424.85 308.17,425.23 309.51,425.60 C310.85,425.96 312.19,426.31 313.53,426.64 C314.87,426.98 316.21,427.30 317.55,427.60 C318.89,427.91 320.23,428.20 321.57,428.49 C322.91,428.77 324.25,429.04 325.59,429.30 C326.93,429.57 328.27,429.82 329.61,430.07 C330.95,430.32 332.29,430.56 333.63,430.80 C334.98,431.04 336.32,431.27 337.66,431.51 C339.00,431.74 340.34,431.96 341.68,432.19 C343.02,432.42 344.36,432.65 345.70,432.88 C347.04,433.12 348.38,433.35 349.72,433.59 C351.06,433.84 352.40,434.08 353.74,434.34 C355.08,434.60 356.42,434.86 357.76,435.14 C359.10,435.42 360.44,435.71 361.78,436.02 C363.12,436.33 364.46,436.65 365.81,436.99 C367.15,437.33 368.49,437.69 369.83,438.07 C371.17,438.45 372.51,438.85 373.85,439.28 C375.19,439.71 376.53,440.16 377.87,440.64 C379.21,441.12 380.55,441.63 381.89,442.17 C383.23,442.70 384.57,443.27 385.91,443.87 C387.25,444.46 388.59,445.09 389.93,445.74 C391.27,446.39 392.61,447.07 393.95,447.78 C395.30,448.49 396.64,449.22 397.98,449.99 C399.32,450.75 400.66,451.54 402.00,452.35 C403.34,453.17 404.68,454.01 406.02,454.88 C407.36,455.75 408.70,456.65 410.04,457.57 C411.38,458.49 412.72,459.43 414.06,460.40 C415.40,461.37 416.74,462.37 418.08,463.39 C419.42,464.41 420.76,465.46 422.10,466.52 C423.44,467.59 424.78,468.68 426.13,469.79 C427.47,470.89 428.81,472.02 430.15,473.16 C431.49,474.29 432.83,475.45 434.17,476.60 C435.51,477.76 436.85,478.93 438.19,480.11 C439.53,481.28 440.87,482.46 442.21,483.64 C443.55,484.81 444.89,486.00 446.23,487.17 C447.57,488.34 448.91,489.52 450.25,490.68 C451.59,491.84 452.93,493.00 454.27,494.14 C455.62,495.28 456.96,496.41 458.30,497.52 C459.64,498.63 460.98,499.73 462.32,500.80 C463.66,501.88 465.00,502.93 466.34,503.97 C467.68,505.01 469.02,506.02 470.36,507.02 C471.70,508.02 473.04,509.00 474.38,509.96 C475.72,510.92 477.06,511.86 478.40,512.77 C479.74,513.69 481.08,514.59 482.42,515.47 C483.76,516.35 485.10,517.21 486.45,518.05 C487.79,518.89 489.13,519.71 490.47,520.50 C491.81,521.30 493.15,522.08 494.49,522.84 C495.83,523.59 497.17,524.33 498.51,525.04 C499.85,525.75 501.19,526.45 502.53,527.12 C503.87,527.79 505.21,528.44 506.55,529.07 C507.89,529.70 509.23,530.31 510.57,530.89 C511.91,531.48 513.25,532.04 514.59,532.58 C515.94,533.13 517.28,533.65 518.62,534.15 C519.96,534.65 521.30,535.13 522.64,535.58 C523.98,536.04 525.32,536.47 526.66,536.89 C528.00,537.30 529.34,537.69 530.68,538.06 C532.02,538.43 533.36,538.77 534.70,539.10 C536.04,539.42 537.38,539.73 538.72,540.01 C540.06,540.29 541.40,540.55 542.74,540.78 C544.08,541.02 545.42,541.24 546.77,541.43 C548.11,541.63 549.45,541.81 550.79,541.97 C552.13,542.13 553.47,542.28 554.81,542.41 C556.15,542.54 557.49,542.65 558.83,542.75 C560.17,542.85 561.51,542.94 562.85,543.02 C564.19,543.09 565.53,543.16 566.87,543.21 C568.21,543.27 569.55,543.32 570.89,543.35 C572.23,543.39 573.57,543.42 574.91,543.45 C576.26,543.47 577.60,543.49 578.94,543.51 C580.28,543.53 581.62,543.54 582.96,543.55 C584.30,543.56 585.64,543.56 586.98,543.57 C588.32,543.58 590.33,543.60 591.00,543.60 L591.8,766" fill="none" stroke="#0000ff" stroke-width="2.90" stroke-linejoin="round" stroke-linecap="butt" />
<path d="M289.40,417.60 C290.07,417.77 292.07,418.32 293.41,418.64 C294.74,418.96 296.08,419.25 297.41,419.51 C298.75,419.77 300.09,420.01 301.42,420.23 C302.76,420.45 304.09,420.64 305.43,420.83 C306.76,421.01 308.10,421.18 309.44,421.33 C310.77,421.49 312.11,421.63 313.44,421.77 C314.78,421.91 316.11,422.04 317.45,422.16 C318.78,422.29 320.12,422.42 321.46,422.55 C322.79,422.67 324.13,422.80 325.46,422.93 C326.80,423.06 328.13,423.19 329.47,423.32 C330.81,423.45 332.14,423.59 333.48,423.73 C334.81,423.86 336.15,424.00 337.48,424.14 C338.82,424.29 340.16,424.43 341.49,424.58 C342.83,424.73 344.16,424.89 345.50,425.04 C346.83,425.20 348.17,425.36 349.51,425.53 C350.84,425.70 352.18,425.87 353.51,426.05 C354.85,426.23 356.18,426.41 357.52,426.60 C358.85,426.79 360.19,426.98 361.53,427.19 C362.86,427.39 364.20,427.60 365.53,427.82 C366.87,428.05 368.20,428.28 369.54,428.53 C370.88,428.78 372.21,429.04 373.55,429.32 C374.88,429.61 376.22,429.91 377.55,430.23 C378.89,430.55 380.23,430.89 381.56,431.26 C382.90,431.63 384.23,432.02 385.57,432.45 C386.90,432.87 388.24,433.32 389.58,433.81 C390.91,434.29 392.25,434.80 393.58,435.36 C394.92,435.91 396.25,436.49 397.59,437.12 C398.93,437.75 400.26,438.41 401.60,439.12 C402.93,439.82 404.27,440.57 405.60,441.36 C406.94,442.14 408.27,442.97 409.61,443.84 C410.95,444.71 412.28,445.62 413.62,446.56 C414.95,447.51 416.29,448.50 417.62,449.52 C418.96,450.55 420.30,451.62 421.63,452.72 C422.97,453.82 424.30,454.97 425.64,456.15 C426.97,457.33 428.31,458.55 429.65,459.80 C430.98,461.06 432.32,462.36 433.65,463.68 C434.99,465.01 436.32,466.37 437.66,467.74 C439.00,469.12 440.33,470.53 441.67,471.95 C443.00,473.36 444.34,474.80 445.67,476.24 C447.01,477.68 448.35,479.13 449.68,480.58 C451.02,482.02 452.35,483.48 453.69,484.92 C455.02,486.35 456.36,487.79 457.69,489.21 C459.03,490.62 460.37,492.03 461.70,493.41 C463.04,494.79 464.37,496.15 465.71,497.47 C467.04,498.79 468.38,500.09 469.72,501.35 C471.05,502.61 472.39,503.83 473.72,505.00 C475.06,506.18 476.39,507.31 477.73,508.39 C479.07,509.46 480.40,510.49 481.74,511.46 C483.07,512.42 484.41,513.33 485.74,514.17 C487.08,515.00 488.42,515.77 489.75,516.47 C491.09,517.18 492.42,517.80 493.76,518.37 C495.09,518.94 496.43,519.44 497.76,519.89 C499.10,520.33 500.44,520.72 501.77,521.05 C503.11,521.39 504.44,521.67 505.78,521.90 C507.11,522.14 508.45,522.32 509.79,522.47 C511.12,522.61 512.46,522.71 513.79,522.78 C515.13,522.85 517.13,522.85 517.80,522.87 L518.2,525.3 L520.2,534.6 L522.6,549.1 L524.0,563.5 L525.3,578.0 L526.0,586.3 L806,586.3" fill="none" stroke="#00ffff" stroke-width="2.90" stroke-linejoin="round" stroke-linecap="butt" />
<path d="M143.00,417.60 L289.40,417.60 C290.06,417.64 292.03,417.78 293.35,417.86 C294.67,417.94 295.99,418.02 297.30,418.10 C298.62,418.17 299.94,418.24 301.25,418.31 C302.57,418.38 303.89,418.45 305.21,418.51 C306.52,418.58 307.84,418.64 309.16,418.70 C310.47,418.76 311.79,418.82 313.11,418.87 C314.43,418.93 315.74,418.98 317.06,419.04 C318.38,419.09 319.69,419.14 321.01,419.19 C322.33,419.25 323.65,419.30 324.96,419.35 C326.28,419.40 327.60,419.45 328.91,419.50 C330.23,419.55 331.55,419.60 332.86,419.66 C334.18,419.71 335.50,419.76 336.82,419.82 C338.13,419.87 339.45,419.92 340.77,419.98 C342.08,420.04 343.40,420.10 344.72,420.16 C346.04,420.22 347.35,420.28 348.67,420.35 C349.99,420.42 351.30,420.49 352.62,420.57 C353.94,420.64 355.26,420.72 356.57,420.80 C357.89,420.89 359.21,420.98 360.52,421.08 C361.84,421.17 363.16,421.27 364.48,421.38 C365.79,421.49 367.11,421.61 368.43,421.73 C369.74,421.85 371.06,421.98 372.38,422.12 C373.70,422.27 375.01,422.41 376.33,422.57 C377.65,422.73 378.96,422.90 380.28,423.07 C381.60,423.25 382.92,423.44 384.23,423.64 C385.55,423.84 386.87,424.05 388.18,424.27 C389.50,424.49 390.82,424.72 392.14,424.98 C393.45,425.23 394.77,425.49 396.09,425.80 C397.40,426.11 398.72,426.43 400.04,426.82 C401.35,427.20 402.67,427.62 403.99,428.10 C405.31,428.59 406.62,429.12 407.94,429.73 C409.26,430.34 410.57,431.02 411.89,431.78 C413.21,432.55 414.53,433.39 415.84,434.33 C417.16,435.27 418.48,436.30 419.79,437.44 C421.11,438.57 422.43,439.79 423.75,441.12 C425.06,442.44 426.38,443.88 427.70,445.38 C429.01,446.89 430.33,448.54 431.65,450.12 C432.97,451.71 434.94,454.10 435.60,454.90 L806,454.9" fill="none" stroke="#ff00ff" stroke-width="2.90" stroke-linejoin="round" stroke-linecap="butt" />
</g>
<g><text transform="translate(73.50,106.90) scale(0.820,1)" text-anchor="middle" font-size="31.25" fill="#000" stroke="#000" stroke-width="0.60" stroke-linejoin="round" vector-effect="non-scaling-stroke">1</text><line x1="73.95" y1="87.20" x2="73.95" y2="104.11" stroke="#000" stroke-width="3.60" stroke-linecap="round"/><text transform="translate(92.10,106.70) scale(1.030,1)" text-anchor="middle" font-size="30.30" fill="#000" stroke="#000" stroke-width="0.80">0</text></g>
<g><text transform="translate(108.15,91.70) scale(1.080,1)" text-anchor="middle" font-size="23.80" fill="#000" stroke="#000" stroke-width="1.00">2</text><text transform="translate(121.95,91.70) scale(1.080,1)" text-anchor="middle" font-size="23.80" fill="#000" stroke="#000" stroke-width="1.00">0</text></g>
<g><text transform="translate(73.50,297.50) scale(0.820,1)" text-anchor="middle" font-size="31.25" fill="#000" stroke="#000" stroke-width="0.60" stroke-linejoin="round" vector-effect="non-scaling-stroke">1</text><line x1="73.95" y1="277.80" x2="73.95" y2="294.71" stroke="#000" stroke-width="3.60" stroke-linecap="round"/><text transform="translate(92.10,297.30) scale(1.030,1)" text-anchor="middle" font-size="30.30" fill="#000" stroke="#000" stroke-width="0.80">0</text></g>
<g><text transform="translate(107.87,282.50) scale(0.820,1)" text-anchor="middle" font-size="24.85" fill="#000" stroke="#000" stroke-width="0.60" stroke-linejoin="round" vector-effect="non-scaling-stroke">1</text><line x1="108.23" y1="266.84" x2="108.23" y2="280.32" stroke="#000" stroke-width="2.88" stroke-linecap="round"/><text transform="translate(121.95,282.30) scale(1.080,1)" text-anchor="middle" font-size="23.80" fill="#000" stroke="#000" stroke-width="1.00">9</text></g>
<g><text transform="translate(349.75,801.20) scale(0.820,1)" text-anchor="middle" font-size="31.25" fill="#000" stroke="#000" stroke-width="0.60" stroke-linejoin="round" vector-effect="non-scaling-stroke">1</text><line x1="350.20" y1="781.50" x2="350.20" y2="798.41" stroke="#000" stroke-width="3.60" stroke-linecap="round"/><text transform="translate(368.35,801.00) scale(1.030,1)" text-anchor="middle" font-size="30.30" fill="#000" stroke="#000" stroke-width="0.80">0</text></g>
<g><text transform="translate(384.30,786.00) scale(1.080,1)" text-anchor="middle" font-size="23.80" fill="#000" stroke="#000" stroke-width="1.00">4</text><line x1="383.69" y1="785.34" x2="389.36" y2="785.34" stroke="#000" stroke-width="2.33" stroke-linecap="round"/></g>
<g><text transform="translate(569.88,801.20) scale(0.820,1)" text-anchor="middle" font-size="31.25" fill="#000" stroke="#000" stroke-width="0.60" stroke-linejoin="round" vector-effect="non-scaling-stroke">1</text><line x1="570.33" y1="781.50" x2="570.33" y2="798.41" stroke="#000" stroke-width="3.60" stroke-linecap="round"/><text transform="translate(588.48,801.00) scale(1.030,1)" text-anchor="middle" font-size="30.30" fill="#000" stroke="#000" stroke-width="0.80">0</text></g>
<g><text transform="translate(604.73,786.00) scale(1.080,1)" text-anchor="middle" font-size="23.80" fill="#000" stroke="#000" stroke-width="1.00">5</text></g>
<g><text transform="translate(790.02,801.20) scale(0.820,1)" text-anchor="middle" font-size="31.25" fill="#000" stroke="#000" stroke-width="0.60" stroke-linejoin="round" vector-effect="non-scaling-stroke">1</text><line x1="790.47" y1="781.50" x2="790.47" y2="798.41" stroke="#000" stroke-width="3.60" stroke-linecap="round"/><text transform="translate(808.62,801.00) scale(1.030,1)" text-anchor="middle" font-size="30.30" fill="#000" stroke="#000" stroke-width="0.80">0</text></g>
<g><text transform="translate(824.87,786.00) scale(1.080,1)" text-anchor="middle" font-size="23.80" fill="#000" stroke="#000" stroke-width="1.00">6</text></g>
<g><text transform="translate(116.60,801.20) scale(0.820,1)" text-anchor="middle" font-size="31.25" fill="#000" stroke="#000" stroke-width="0.60" stroke-linejoin="round" vector-effect="non-scaling-stroke">1</text><line x1="117.05" y1="781.50" x2="117.05" y2="798.41" stroke="#000" stroke-width="3.60" stroke-linecap="round"/><text transform="translate(135.20,801.00) scale(1.030,1)" text-anchor="middle" font-size="30.30" fill="#000" stroke="#000" stroke-width="0.80">0</text><text transform="translate(153.45,801.00) scale(1.030,1)" text-anchor="middle" font-size="30.30" fill="#000" stroke="#000" stroke-width="0.80">0</text><text transform="translate(171.70,801.00) scale(1.030,1)" text-anchor="middle" font-size="30.30" fill="#000" stroke="#000" stroke-width="0.80">0</text></g>
<g><text transform="translate(114.25,773.80) scale(1.030,1)" text-anchor="middle" font-size="30.30" fill="#000" stroke="#000" stroke-width="0.80">0</text></g>
<g><text transform="translate(86.15,600.70) scale(1.030,1)" text-anchor="middle" font-size="30.30" fill="#000" stroke="#000" stroke-width="0.80">0</text><text transform="translate(100.08,600.70)" text-anchor="middle" font-size="24.24" fill="#000">.</text><circle cx="100.08" cy="598.50" r="2.20" fill="#000"/><text transform="translate(114.00,600.70) scale(1.030,1)" text-anchor="middle" font-size="30.30" fill="#000" stroke="#000" stroke-width="0.80">5</text></g>
<g><text transform="translate(114.20,427.40) scale(0.820,1)" text-anchor="middle" font-size="31.25" fill="#000" stroke="#000" stroke-width="0.60" stroke-linejoin="round" vector-effect="non-scaling-stroke">1</text><line x1="114.65" y1="407.70" x2="114.65" y2="424.61" stroke="#000" stroke-width="3.60" stroke-linecap="round"/></g>
<g><text transform="translate(458.90,42.57) scale(1.040,1)" text-anchor="middle" font-size="24.24" fill="#ff00ff" stroke="#ff00ff" stroke-width="0.45">0</text><text transform="translate(469.60,42.57)" text-anchor="middle" font-size="19.39" fill="#ff00ff">.</text><circle cx="469.60" cy="40.47" r="2.10" fill="#ff00ff"/><text transform="translate(480.30,42.57) scale(1.040,1)" text-anchor="middle" font-size="24.24" fill="#ff00ff" stroke="#ff00ff" stroke-width="0.45">2</text><text transform="translate(494.10,42.57) scale(1.040,1)" text-anchor="middle" font-size="24.24" fill="#ff00ff" stroke="#ff00ff" stroke-width="0.45">5</text></g>
<g><text transform="translate(636.00,443.38) scale(1.040,1)" text-anchor="middle" font-size="24.24" fill="#ff00ff" stroke="#ff00ff" stroke-width="0.45">0</text><text transform="translate(646.70,443.38)" text-anchor="middle" font-size="19.39" fill="#ff00ff">.</text><circle cx="646.70" cy="441.27" r="2.10" fill="#ff00ff"/><text transform="translate(657.40,443.38) scale(1.040,1)" text-anchor="middle" font-size="24.24" fill="#ff00ff" stroke="#ff00ff" stroke-width="0.45">2</text><text transform="translate(671.20,443.38) scale(1.040,1)" text-anchor="middle" font-size="24.24" fill="#ff00ff" stroke="#ff00ff" stroke-width="0.45">5</text></g>
<g><text transform="translate(647.25,41.77) scale(1.040,1)" text-anchor="middle" font-size="24.24" fill="#00ffff" stroke="#00ffff" stroke-width="0.45">0</text><text transform="translate(657.95,41.77)" text-anchor="middle" font-size="19.39" fill="#00ffff">.</text><circle cx="657.95" cy="39.67" r="2.10" fill="#00ffff"/><text transform="translate(668.37,41.98) scale(0.820,1)" text-anchor="middle" font-size="24.85" fill="#00ffff" stroke="#00ffff" stroke-width="0.60" stroke-linejoin="round" vector-effect="non-scaling-stroke">1</text><line x1="668.73" y1="26.32" x2="668.73" y2="39.80" stroke="#00ffff" stroke-width="2.88" stroke-linecap="round"/></g>
<g><text transform="translate(609.25,486.97) scale(1.040,1)" text-anchor="middle" font-size="24.24" fill="#00ffff" stroke="#00ffff" stroke-width="0.45">0</text><text transform="translate(619.95,486.97)" text-anchor="middle" font-size="19.39" fill="#00ffff">.</text><circle cx="619.95" cy="484.87" r="2.10" fill="#00ffff"/><text transform="translate(630.37,487.17) scale(0.820,1)" text-anchor="middle" font-size="24.85" fill="#00ffff" stroke="#00ffff" stroke-width="0.60" stroke-linejoin="round" vector-effect="non-scaling-stroke">1</text><line x1="630.73" y1="471.52" x2="630.73" y2="485.00" stroke="#00ffff" stroke-width="2.88" stroke-linecap="round"/></g>
<g><text transform="translate(358.60,102.08) scale(1.040,1)" text-anchor="middle" font-size="24.24" fill="#0000ff" stroke="#0000ff" stroke-width="0.45">0</text><text transform="translate(369.30,102.08)" text-anchor="middle" font-size="19.39" fill="#0000ff">.</text><circle cx="369.30" cy="99.98" r="2.10" fill="#0000ff"/><text transform="translate(380.00,102.08) scale(1.040,1)" text-anchor="middle" font-size="24.24" fill="#0000ff" stroke="#0000ff" stroke-width="0.45">0</text><text transform="translate(393.80,102.08) scale(1.040,1)" text-anchor="middle" font-size="24.24" fill="#0000ff" stroke="#0000ff" stroke-width="0.45">5</text></g>
<g><text transform="translate(562.40,531.97) scale(1.040,1)" text-anchor="middle" font-size="24.24" fill="#0000ff" stroke="#0000ff" stroke-width="0.45">0</text><text transform="translate(573.10,531.97)" text-anchor="middle" font-size="19.39" fill="#0000ff">.</text><circle cx="573.10" cy="529.87" r="2.10" fill="#0000ff"/><text transform="translate(583.80,531.97) scale(1.040,1)" text-anchor="middle" font-size="24.24" fill="#0000ff" stroke="#0000ff" stroke-width="0.45">0</text><text transform="translate(597.60,531.97) scale(1.040,1)" text-anchor="middle" font-size="24.24" fill="#0000ff" stroke="#0000ff" stroke-width="0.45">5</text></g>
<g><text transform="translate(619.60,149.28) scale(1.040,1)" text-anchor="middle" font-size="24.24" fill="#00ff00" stroke="#00ff00" stroke-width="0.45">0</text><text transform="translate(630.30,149.28)" text-anchor="middle" font-size="19.39" fill="#00ff00">.</text><circle cx="630.30" cy="147.18" r="2.10" fill="#00ff00"/><text transform="translate(641.00,149.28) scale(1.040,1)" text-anchor="middle" font-size="24.24" fill="#00ff00" stroke="#00ff00" stroke-width="0.45">0</text><text transform="translate(654.80,149.28) scale(1.040,1)" text-anchor="middle" font-size="24.24" fill="#00ff00" stroke="#00ff00" stroke-width="0.45">2</text></g>
<g><text transform="translate(486.10,623.97) scale(1.040,1)" text-anchor="middle" font-size="24.24" fill="#00ff00" stroke="#00ff00" stroke-width="0.45">0</text><text transform="translate(496.80,623.97)" text-anchor="middle" font-size="19.39" fill="#00ff00">.</text><circle cx="496.80" cy="621.87" r="2.10" fill="#00ff00"/><text transform="translate(507.50,623.97) scale(1.040,1)" text-anchor="middle" font-size="24.24" fill="#00ff00" stroke="#00ff00" stroke-width="0.45">0</text><text transform="translate(521.30,623.97) scale(1.040,1)" text-anchor="middle" font-size="24.24" fill="#00ff00" stroke="#00ff00" stroke-width="0.45">2</text></g>
<g><text transform="translate(504.55,222.78) scale(1.040,1)" text-anchor="middle" font-size="24.24" fill="#ff0000" stroke="#ff0000" stroke-width="0.45">0</text><text transform="translate(515.25,222.78)" text-anchor="middle" font-size="19.39" fill="#ff0000">.</text><circle cx="515.25" cy="220.68" r="2.10" fill="#ff0000"/><text transform="translate(525.95,222.78) scale(1.040,1)" text-anchor="middle" font-size="24.24" fill="#ff0000" stroke="#ff0000" stroke-width="0.45">0</text><text transform="translate(539.47,222.97) scale(0.820,1)" text-anchor="middle" font-size="24.85" fill="#ff0000" stroke="#ff0000" stroke-width="0.60" stroke-linejoin="round" vector-effect="non-scaling-stroke">1</text><line x1="539.83" y1="207.32" x2="539.83" y2="220.80" stroke="#ff0000" stroke-width="2.88" stroke-linecap="round"/></g>
<g><text transform="translate(456.30,685.67) scale(1.040,1)" text-anchor="middle" font-size="24.24" fill="#ff0000" stroke="#ff0000" stroke-width="0.45">0</text><text transform="translate(467.00,685.67)" text-anchor="middle" font-size="19.39" fill="#ff0000">.</text><circle cx="467.00" cy="683.57" r="2.10" fill="#ff0000"/><text transform="translate(477.70,685.67) scale(1.040,1)" text-anchor="middle" font-size="24.24" fill="#ff0000" stroke="#ff0000" stroke-width="0.45">0</text><text transform="translate(491.22,685.88) scale(0.820,1)" text-anchor="middle" font-size="24.85" fill="#ff0000" stroke="#ff0000" stroke-width="0.60" stroke-linejoin="round" vector-effect="non-scaling-stroke">1</text><line x1="491.58" y1="670.22" x2="491.58" y2="683.70" stroke="#ff0000" stroke-width="2.88" stroke-linecap="round"/></g>
<text class="sf" x="513.50" y="43.00" font-size="26.5" font-style="italic" fill="#ff00ff" stroke="#ff00ff" stroke-width="0.55" textLength="14" lengthAdjust="spacingAndGlyphs">&#956;</text>
<text class="sf" x="528.10" y="43.00" font-size="26" fill="#ff00ff" stroke="#ff00ff" stroke-width="0.75" textLength="25.0" lengthAdjust="spacingAndGlyphs">m</text>
<text class="sf" x="691.30" y="443.80" font-size="26.5" font-style="italic" fill="#ff00ff" stroke="#ff00ff" stroke-width="0.55" textLength="14" lengthAdjust="spacingAndGlyphs">&#956;</text>
<text class="sf" x="705.90" y="443.80" font-size="26" fill="#ff00ff" stroke="#ff00ff" stroke-width="0.75" textLength="25.0" lengthAdjust="spacingAndGlyphs">m</text>
<text class="sf" x="219.3" y="198.7" font-size="26" fill="#000" stroke="#000" stroke-width="0.6" textLength="29.2" lengthAdjust="spacingAndGlyphs">FS</text>
<text class="sf" x="384.4" y="323.5" font-size="25" fill="#000" stroke="#000" stroke-width="0.6" textLength="29.8" lengthAdjust="spacingAndGlyphs">RS</text>
<text class="sf" font-size="30.5" fill="#000" stroke="#000" stroke-width="0.95" lengthAdjust="spacing" transform="translate(402.4,860.3) scale(1.08,1)" textLength="65.37">time</text>
<text class="sf" font-size="30.5" fill="#000" stroke="#000" stroke-width="0.95" lengthAdjust="spacing" transform="translate(490.3,860.3) scale(1.08,1)" textLength="52.22">(yr)</text>
<text class="sf" font-size="30.5" fill="#000" stroke="#000" stroke-width="0.95" lengthAdjust="spacing" transform="translate(25.7,302.0) rotate(-90) scale(1.08,1)" textLength="120.93">distance</text>
<text class="sf" font-size="30.5" fill="#000" stroke="#000" stroke-width="0.95" lengthAdjust="spacing" transform="translate(25.7,154.6) rotate(-90) scale(1.08,1)" textLength="66.30">(cm)</text>
<g transform="translate(25.9,632.4) rotate(-90)">
<text transform="translate(6.5,-0.6) scale(0.91,1)" text-anchor="middle" font-size="29" fill="#000" stroke="#000" stroke-width="0.45">a</text>
<text transform="translate(83.95,-0.6) scale(0.91,1)" text-anchor="middle" font-size="29" fill="#000" stroke="#000" stroke-width="0.45">a</text>
<text transform="translate(20.90,-0.60) scale(1.000,1)" text-anchor="middle" font-size="33.80" fill="#000" stroke="#000" stroke-width="0.20">(</text>
<text transform="translate(33.00,-0.20) scale(1.150,1)" text-anchor="middle" font-size="33.30" fill="#000" stroke="#000" stroke-width="0.00">t</text>
<text transform="translate(44.70,-0.60) scale(1.000,1)" text-anchor="middle" font-size="33.80" fill="#000" stroke="#000" stroke-width="0.20">)</text>
<text transform="translate(62.55,5.20) skewX(-14)" text-anchor="middle" font-size="41.5" fill="#000">/</text>
<text class="sf" transform="translate(95.2,11.0) scale(1.1,1)" font-size="25" fill="#000" stroke="#000" stroke-width="0.85" textLength="28.18" lengthAdjust="spacing">ini</text>
</g>
<line x1="381.3" y1="106.6" x2="468" y2="138.6" stroke="#0000ff" stroke-width="2.0"/>
<polygon points="474.2,140.8 452.0,121.0 464.8,137.2 447.2,140.8" fill="#0000ff"/>
<line x1="589.8" y1="480.2" x2="456" y2="482.0" stroke="#00ffff" stroke-width="2.0"/>
<polygon points="450.9,482.1 473.7,473.9 459.5,482.0 473.7,489.9" fill="#00ffff"/>
</svg></body></html>
